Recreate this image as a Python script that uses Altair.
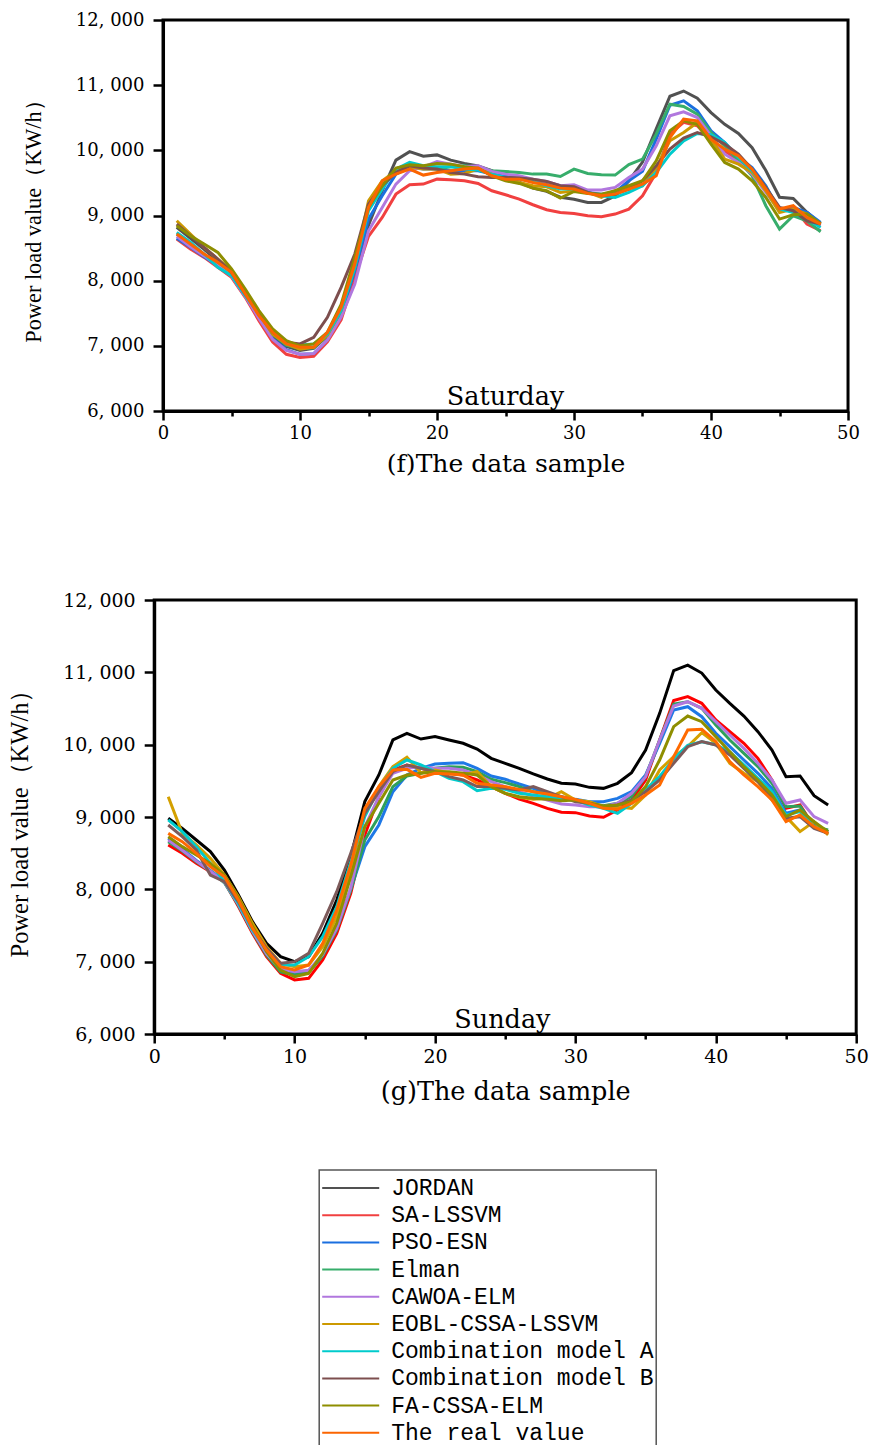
import altair as alt
import pandas as pd

x_vals = list(range(1, 49))

series_names = ["JORDAN", "SA-LSSVM", "PSO-ESN", "Elman", "CAWOA-ELM", "EOBL-CSSA-LSSVM",
                "Combination model A", "Combination model B", "FA-CSSA-ELM", "The real value"]

top_colors = ["#515151", "#F14040", "#1A6FDF", "#37AD6B", "#B177DE", "#CC9900",
              "#00CBCC", "#7D4E4E", "#8E8E00", "#FB6501"]
bottom_colors = ["#000000", "#FF0000", "#1E78E6", "#2EA05A", "#B177DE", "#D4A000",
                 "#00CBCC", "#7D5A5A", "#8E8E00", "#FF6A00"]

# ---------------- Saturday ----------------
sat_jordan = [8820, 8650, 8480, 8300, 8100, 7780, 7450, 7150, 6990, 6930, 6960, 7150, 7480, 8120, 8850, 9380,
              9850, 9980, 9910, 9930, 9850, 9800, 9760, 9690, 9580, 9510, 9420, 9370, 9280, 9250, 9200, 9200,
              9300, 9530, 9820, 10330, 10830, 10910, 10800, 10580, 10400, 10260, 10040, 9690, 9280, 9260, 9050, 8870]
sat_sa = [8640, 8485, 8357, 8204, 8051, 7744, 7387, 7060, 6870, 6820, 6840, 7060, 7400, 8050, 8680, 8971,
          9328, 9471, 9482, 9558, 9548, 9533, 9492, 9380, 9318, 9252, 9165, 9088, 9047, 9032, 8996, 8981,
          9022, 9098, 9303, 9660, 10248, 10430, 10376, 10146, 9993, 9839, 9660, 9380, 9073, 9124, 8868, 8766]
sat_pso = [8650, 8511, 8368, 8230, 8077, 7770, 7438, 7110, 6940, 6870, 6880, 7090, 7489, 8153, 8945, 9303,
           9635, 9737, 9712, 9712, 9686, 9686, 9686, 9635, 9609, 9584, 9533, 9507, 9456, 9431, 9354, 9328,
           9354, 9533, 9680, 10171, 10692, 10759, 10606, 10299, 10120, 9890, 9737, 9456, 9073, 9124, 9047, 8894]
sat_elman = [8715, 8550, 8400, 8250, 8100, 7780, 7460, 7180, 7010, 6960, 6970, 7180, 7540, 8200, 9124, 9431,
             9712, 9788, 9747, 9712, 9747, 9763, 9737, 9686, 9676, 9660, 9635, 9635, 9599, 9712, 9645, 9625,
             9620, 9780, 9865, 10248, 10708, 10672, 10555, 10274, 10069, 9839, 9609, 9150, 8792, 8996, 8919, 8751]
sat_cawoa = [8680, 8520, 8380, 8230, 8070, 7760, 7420, 7100, 6930, 6870, 6880, 7090, 7440, 7949, 8766, 9124,
             9482, 9686, 9747, 9829, 9788, 9747, 9763, 9676, 9635, 9609, 9558, 9523, 9456, 9471, 9390, 9390,
             9431, 9584, 9712, 10069, 10529, 10590, 10503, 10222, 9941, 9814, 9635, 9354, 9073, 9099, 8945, 8843]
sat_eobl = [8919, 8715, 8511, 8332, 8153, 7820, 7490, 7180, 7029, 6950, 6980, 7160, 7540, 8255, 9226, 9533,
            9686, 9747, 9712, 9712, 9635, 9645, 9712, 9635, 9558, 9507, 9456, 9441, 9354, 9380, 9354, 9277,
            9380, 9431, 9456, 9737, 10146, 10274, 10427, 10171, 9865, 9788, 9660, 9380, 9047, 9099, 9022, 8868]
sat_comA = [8741, 8590, 8409, 8204, 8077, 7770, 7489, 7208, 7055, 7014, 7029, 7180, 7540, 8204, 9073, 9405,
            9712, 9814, 9763, 9747, 9747, 9712, 9697, 9635, 9584, 9558, 9523, 9456, 9405, 9405, 9354, 9303,
            9277, 9354, 9456, 9660, 9941, 10146, 10258, 10238, 10120, 9890, 9686, 9431, 9099, 9047, 8945, 8817]
sat_comB = [8868, 8690, 8511, 8332, 8128, 7795, 7489, 7208, 7055, 7029, 7131, 7438, 7898, 8409, 9175, 9456,
            9660, 9763, 9727, 9712, 9660, 9635, 9594, 9584, 9584, 9574, 9558, 9523, 9456, 9441, 9354, 9303,
            9328, 9405, 9533, 9763, 10018, 10187, 10274, 10207, 10095, 9941, 9712, 9431, 9124, 9073, 8919, 8868]
sat_fa = [8843, 8690, 8562, 8434, 8179, 7870, 7540, 7260, 7080, 7000, 7029, 7208, 7637, 8357, 9124, 9456,
          9727, 9778, 9763, 9798, 9788, 9747, 9727, 9609, 9533, 9492, 9420, 9380, 9267, 9369, 9339, 9328,
          9380, 9456, 9533, 9839, 10299, 10452, 10401, 10095, 9814, 9712, 9533, 9277, 8945, 9012, 9022, 8879]
sat_real = [8715, 8562, 8409, 8281, 8128, 7795, 7463, 7208, 7029, 6978, 6978, 7208, 7591, 8255, 9124, 9533,
            9635, 9712, 9620, 9660, 9686, 9712, 9727, 9609, 9558, 9558, 9507, 9471, 9420, 9405, 9339, 9303,
            9328, 9405, 9482, 9609, 10197, 10478, 10452, 10171, 10018, 9916, 9712, 9405, 9099, 9150, 8971, 8868]

# ---------------- Sunday ----------------
sun_jordan = [8982, 8843, 8682, 8521, 8267, 7922, 7553, 7254, 7069, 7000, 7069, 7392, 7853, 8452, 9212, 9581,
              10065, 10157, 10078, 10111, 10065, 10019, 9940, 9811, 9742, 9673, 9595, 9525, 9466, 9456, 9410, 9396,
              9466, 9613, 9926, 10433, 11025, 11100, 10990, 10756, 10572, 10396, 10180, 9926, 9558, 9567, 9295, 9166]
sun_sa = [8613, 8498, 8360, 8244, 8106, 7761, 7392, 7069, 6839, 6747, 6770, 7023, 7392, 7945, 8750, 9281,
          9650, 9719, 9673, 9627, 9604, 9581, 9512, 9420, 9327, 9249, 9189, 9120, 9065, 9060, 9014, 8996,
          9097, 9235, 9512, 10065, 10610, 10664, 10572, 10341, 10180, 10019, 9811, 9512, 9120, 9166, 8866, 8774]
sun_pso = [8705, 8560, 8400, 8260, 8110, 7790, 7420, 7100, 6880, 6839, 6870, 7090, 7450, 8000, 8590, 8890,
           9350, 9581, 9673, 9733, 9742, 9751, 9673, 9567, 9521, 9456, 9396, 9327, 9281, 9244, 9212, 9212,
           9258, 9350, 9581, 10019, 10479, 10525, 10387, 10157, 9972, 9788, 9604, 9396, 9051, 9097, 8889, 8797]
sun_elman = [8659, 8530, 8380, 8250, 8090, 7780, 7410, 7090, 6860, 6816, 6850, 7080, 7440, 7990, 8682, 9005,
             9420, 9567, 9604, 9673, 9696, 9687, 9627, 9521, 9475, 9420, 9350, 9318, 9258, 9235, 9189, 9157,
             9189, 9281, 9558, 10065, 10562, 10594, 10503, 10272, 10065, 9880, 9696, 9466, 9143, 9152, 8866, 8820]
sun_cawoa = [8682, 8540, 8390, 8250, 8100, 7790, 7420, 7110, 6900, 6862, 6880, 7100, 7460, 8020, 8866, 9281,
             9604, 9673, 9696, 9673, 9673, 9650, 9581, 9489, 9420, 9350, 9290, 9235, 9180, 9166, 9143, 9143,
             9189, 9327, 9558, 10065, 10535, 10594, 10503, 10318, 10134, 9949, 9742, 9512, 9189, 9235, 9005, 8913]
sun_eobl = [9280, 8774, 8613, 8429, 8198, 7899, 7530, 7208, 6977, 6931, 6954, 7208, 7622, 8267, 9051, 9420,
            9696, 9825, 9613, 9650, 9613, 9581, 9627, 9420, 9327, 9272, 9244, 9258, 9350, 9235, 9212, 9143,
            9143, 9120, 9304, 9650, 9834, 9973, 10166, 10019, 9742, 9604, 9489, 9235, 9005, 8798, 8936, 8752]
sun_comA = [8959, 8797, 8590, 8359, 8106, 7807, 7438, 7162, 6954, 6954, 7069, 7346, 7760, 8382, 9005, 9396,
            9673, 9788, 9719, 9627, 9535, 9489, 9364, 9396, 9382, 9327, 9304, 9281, 9244, 9235, 9166, 9120,
            9051, 9189, 9380, 9560, 9800, 9990, 10040, 10000, 9900, 9720, 9535, 9350, 9028, 9074, 8866, 8797]
sun_comB = [8889, 8728, 8544, 8198, 8106, 7830, 7461, 7185, 6977, 7000, 7115, 7530, 7968, 8498, 9051, 9350,
            9627, 9719, 9673, 9627, 9558, 9512, 9420, 9420, 9396, 9373, 9420, 9350, 9281, 9212, 9189, 9143,
            9166, 9235, 9350, 9512, 9742, 9972, 10042, 9996, 9857, 9673, 9489, 9281, 8982, 9005, 8843, 8774]
sun_fa = [8728, 8590, 8475, 8359, 8198, 7880, 7490, 7138, 6885, 6793, 6839, 7115, 7530, 8175, 8866, 9189,
          9512, 9581, 9604, 9627, 9627, 9604, 9581, 9420, 9327, 9281, 9258, 9244, 9226, 9235, 9189, 9152,
          9166, 9212, 9420, 9788, 10249, 10396, 10318, 10111, 9903, 9696, 9512, 9304, 9005, 9097, 8935, 8797]
sun_real = [8774, 8659, 8498, 8313, 8175, 7853, 7461, 7162, 6931, 6885, 6954, 7254, 7714, 8336, 9120, 9420,
            9650, 9659, 9548, 9604, 9595, 9581, 9466, 9443, 9420, 9382, 9350, 9318, 9281, 9244, 9189, 9120,
            9106, 9189, 9304, 9443, 9834, 10203, 10212, 10042, 9765, 9581, 9420, 9235, 8936, 9028, 8867, 8775]

sat_series = [sat_jordan, sat_sa, sat_pso, sat_elman, sat_cawoa, sat_eobl, sat_comA, sat_comB, sat_fa, sat_real]
sun_series = [sun_jordan, sun_sa, sun_pso, sun_elman, sun_cawoa, sun_eobl, sun_comA, sun_comB, sun_fa, sun_real]

day_labels = ["Saturday", "Sunday"]
day_label_x = [25, 24.8]
day_label_y = [6222, 6194]
panel_tags = ["f", "g"]

y_title = "Power load value（KW/h）"


def make_df(arrays):
    rows = []
    for order, (name, vals) in enumerate(zip(series_names, arrays)):
        for xi, v in zip(x_vals, vals):
            rows.append({"sample": xi, "load": v, "model": name, "order": order})
    return pd.DataFrame(rows)


def panel(arrays, colors, width, height, idx, lab_size, xt_size, xt_pad, yt_size, day_size):
    df = make_df(arrays)
    x_axis = alt.Axis(
        values=list(range(0, 51, 5)),
        labelExpr="datum.value % 10 === 0 ? datum.label : ''",
        title=f"({panel_tags[idx]})The data sample",
        titleFont="DejaVu Serif", titleFontSize=xt_size, titleFontWeight="normal",
        titleColor="black", titlePadding=xt_pad,
        labelFont="DejaVu Serif", labelFontSize=lab_size, labelColor="black",
        labelPadding=4, labelFlush=False,
        tickSize={"condition": {"test": "datum.value % 10 === 0", "value": 9}, "value": 5},
    )
    y_axis = alt.Axis(
        values=list(range(6000, 12001, 500)),
        labelExpr="datum.value % 1000 === 0 ? replace(format(datum.value, ','), ',', ', ') : ''",
        title=y_title,
        titleFont="Liberation Serif", titleFontSize=yt_size, titleFontWeight="normal",
        titleColor="black", titlePadding=30,
        labelFont="DejaVu Serif", labelFontSize=lab_size, labelColor="black",
        labelPadding=9,
        tickSize={"condition": {"test": "datum.value % 1000 === 0", "value": 10}, "value": 5},
    )
    lines = alt.Chart(df).mark_line(strokeWidth=3).encode(
        x=alt.X("sample:Q", scale=alt.Scale(domain=[0, 50], nice=False), axis=x_axis),
        y=alt.Y("load:Q", scale=alt.Scale(domain=[6000, 12000], nice=False), axis=y_axis),
        color=alt.Color("model:N", scale=alt.Scale(domain=series_names, range=colors), legend=None),
        order=alt.Order("order:Q"),
    )
    day_df = pd.DataFrame({"sample": [day_label_x[idx]], "load": [day_label_y[idx]], "label": [day_labels[idx]]})
    day = alt.Chart(day_df).mark_text(font="DejaVu Serif", fontSize=day_size, color="black",
                                      baseline="middle", align="center").encode(
        x="sample:Q", y="load:Q", text="label:N")
    return alt.layer(lines, day).properties(width=width, height=height)


top = panel(sat_series, top_colors, 685, 391, 0, 18, 25, 9, 22.3, 25.5)
bottom_core = panel(sun_series, bottom_colors, 702, 434, 1, 19, 25.5, 13, 24.5, 25.5)

# legend drawn below the bottom panel
legend_df = pd.DataFrame({"model": series_names})
frame_df = pd.DataFrame({"frame": [0]})
leg_y = alt.Y("model:N", scale=alt.Scale(type="point", domain=series_names,
                                         range=[588, 588 + 9 * 27.2], padding=0), axis=None)
leg_rules = alt.Chart(legend_df).mark_rule(strokeWidth=2).encode(
    y=leg_y, x=alt.value(168), x2=alt.value(225),
    color=alt.Color("model:N", scale=alt.Scale(domain=series_names, range=top_colors), legend=None))
leg_text = alt.Chart(legend_df).mark_text(align="left", baseline="middle", font="Liberation Mono",
                                          fontSize=23, color="black").encode(
    y=leg_y, x=alt.value(237), text="model:N")
leg_box = alt.Chart(frame_df).mark_rect(filled=False, stroke="#555555", strokeWidth=1.5).encode(
    x=alt.value(165), x2=alt.value(502), y=alt.value(570), y2=alt.value(860))

bottom = alt.layer(bottom_core, leg_box, leg_rules, leg_text).resolve_scale(
    y="independent", color="independent")

chart = alt.vconcat(top, bottom, spacing=111, center=True).resolve_scale(
    color="independent").properties(
    padding={"left": 6, "top": 9, "right": 5, "bottom": 0}
).configure_view(stroke="black", strokeWidth=3).configure_axis(
    domainColor="black", domainWidth=3, tickColor="black", tickWidth=2.5, grid=False
)

chart.save("out.html", embed_options={"renderer": "svg", "actions": False})
